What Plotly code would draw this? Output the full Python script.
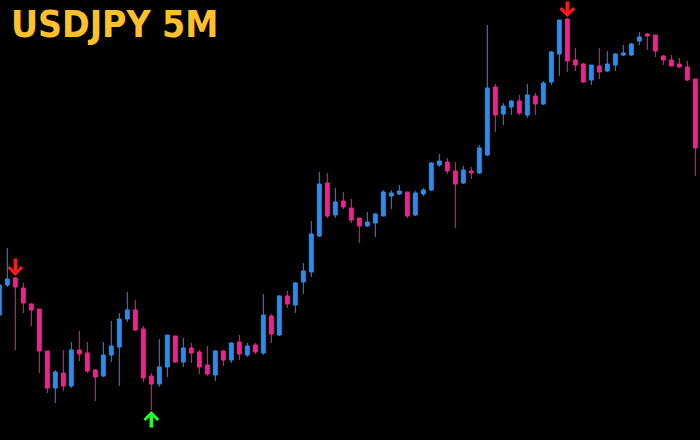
import plotly.graph_objs as go

# USDJPY 5 minute candles, oldest first
open_ = [150.125, 150.155, 150.162, 150.152, 150.136, 150.131, 150.089, 150.052, 150.067, 150.054,
         150.090, 150.087, 150.070, 150.064, 150.085, 150.093, 150.121, 150.130, 150.111, 150.064,
         150.056, 150.073, 150.104, 150.078, 150.092, 150.088, 150.075, 150.065, 150.089, 150.080,
         150.098, 150.085, 150.095, 150.087, 150.124, 150.105, 150.144, 150.135, 150.158, 150.168,
         150.204, 150.257, 150.225, 150.239, 150.232, 150.222, 150.214, 150.217, 150.224, 150.244,
         150.246, 150.248, 150.225, 150.246, 150.250, 150.275, 150.278, 150.269, 150.257, 150.269,
         150.267, 150.285, 150.353, 150.326, 150.333, 150.339, 150.325, 150.344, 150.336, 150.358,
         150.386, 150.421, 150.380, 150.376, 150.360, 150.374, 150.369, 150.375, 150.385, 150.385,
         150.399, 150.406, 150.405, 150.384, 150.380, 150.376, 150.373, 150.361]
high = [150.156, 150.192, 150.163, 150.157, 150.137, 150.131, 150.089, 150.070, 150.090, 150.098,
        150.109, 150.098, 150.071, 150.098, 150.119, 150.127, 150.148, 150.140, 150.114, 150.067,
        150.101, 150.105, 150.104, 150.102, 150.097, 150.090, 150.094, 150.090, 150.090, 150.098,
        150.105, 150.097, 150.097, 150.146, 150.126, 150.145, 150.149, 150.158, 150.177, 150.219,
        150.268, 150.267, 150.252, 150.248, 150.241, 150.222, 150.228, 150.227, 150.250, 150.250,
        150.255, 150.248, 150.249, 150.252, 150.278, 150.286, 150.282, 150.278, 150.274, 150.273,
        150.295, 150.415, 150.356, 150.337, 150.340, 150.345, 150.356, 150.347, 150.359, 150.389,
        150.420, 150.422, 150.392, 150.377, 150.375, 150.392, 150.389, 150.387, 150.395, 150.397,
        150.408, 150.407, 150.405, 150.385, 150.385, 150.382, 150.379, 150.361]
low = [150.124, 150.153, 150.090, 150.127, 150.114, 150.067, 150.047, 150.037, 150.049, 150.052,
       150.079, 150.067, 150.039, 150.063, 150.078, 150.054, 150.118, 150.109, 150.058, 150.030,
       150.053, 150.063, 150.077, 150.073, 150.077, 150.066, 150.064, 150.059, 150.074, 150.077,
       150.080, 150.083, 150.086, 150.085, 150.097, 150.104, 150.132, 150.127, 150.146, 150.163,
       150.203, 150.222, 150.222, 150.231, 150.217, 150.197, 150.213, 150.203, 150.224, 150.231,
       150.245, 150.222, 150.224, 150.244, 150.249, 150.273, 150.266, 150.212, 150.256, 150.261,
       150.266, 150.284, 150.308, 150.315, 150.325, 150.325, 150.322, 150.325, 150.335, 150.355,
       150.364, 150.368, 150.369, 150.357, 150.355, 150.361, 150.368, 150.369, 150.384, 150.384,
       150.395, 150.390, 150.383, 150.375, 150.374, 150.372, 150.359, 150.264]
close = [150.155, 150.161, 150.153, 150.137, 150.130, 150.089, 150.052, 150.068, 150.054, 150.090,
         150.086, 150.069, 150.063, 150.085, 150.094, 150.121, 150.130, 150.110, 150.062, 150.056,
         150.073, 150.105, 150.078, 150.092, 150.087, 150.073, 150.066, 150.089, 150.080, 150.097,
         150.086, 150.094, 150.088, 150.125, 150.106, 150.144, 150.136, 150.157, 150.169, 150.206,
         150.256, 150.224, 150.238, 150.233, 150.220, 150.214, 150.218, 150.226, 150.248, 150.247,
         150.249, 150.224, 150.247, 150.250, 150.277, 150.279, 150.269, 150.256, 150.270, 150.267,
         150.292, 150.352, 150.325, 150.334, 150.339, 150.327, 150.345, 150.336, 150.357, 150.388,
         150.420, 150.379, 150.375, 150.358, 150.375, 150.368, 150.376, 150.386, 150.387, 150.396,
         150.403, 150.404, 150.389, 150.380, 150.374, 150.373, 150.360, 150.292]

# candle numbers where the indicator printed an arrow
sell_signals = [2, 71]
buy_signals = [19]

bars = list(range(len(open_)))

up_color = '#2b8cf0'
down_color = '#f0238c'

fig = go.Figure(go.Candlestick(x=bars, open=open_, high=high, low=low, close=close,
                               increasing=dict(line=dict(color=up_color, width=1), fillcolor=up_color),
                               decreasing=dict(line=dict(color=down_color, width=1), fillcolor=down_color),
                               whiskerwidth=0, hoverinfo='skip'))

arrows = []
for i in sell_signals:
    arrows.append(dict(x=i, y=high[i], xref='x', yref='y', text='', showarrow=True,
                       ax=0, ay=-20, arrowhead=4, arrowsize=0.75, arrowwidth=3.5,
                       arrowcolor='#ff1a1a', standoff=1))
for i in buy_signals:
    arrows.append(dict(x=i, y=low[i], xref='x', yref='y', text='', showarrow=True,
                       ax=0, ay=19, arrowhead=4, arrowsize=0.75, arrowwidth=3.5,
                       arrowcolor='#22ff22', standoff=1))

arrows.append(dict(x=0, y=1, xref='paper', yref='paper', xanchor='left', yanchor='top',
                   xshift=9, yshift=-1, showarrow=False, text='<b>USDJPY 5M</b>',
                   font=dict(family='DejaVu Sans Condensed, Noto Sans',
                             size=37, color='#ffc02a')))

fig.update_layout(width=700, height=440, margin=dict(l=0, r=0, t=0, b=0),
                  paper_bgcolor='black', plot_bgcolor='black', showlegend=False,
                  boxgap=0.3, annotations=arrows,
                  xaxis=dict(range=[0.0875, 87.5875], visible=False,
                             rangeslider=dict(visible=False)),
                  yaxis=dict(range=[150.000, 150.440], visible=False))

fig.write_html("out.html", config=dict(displayModeBar=False),
               post_script="document.body.style.margin='0';document.body.style.background='black';")
